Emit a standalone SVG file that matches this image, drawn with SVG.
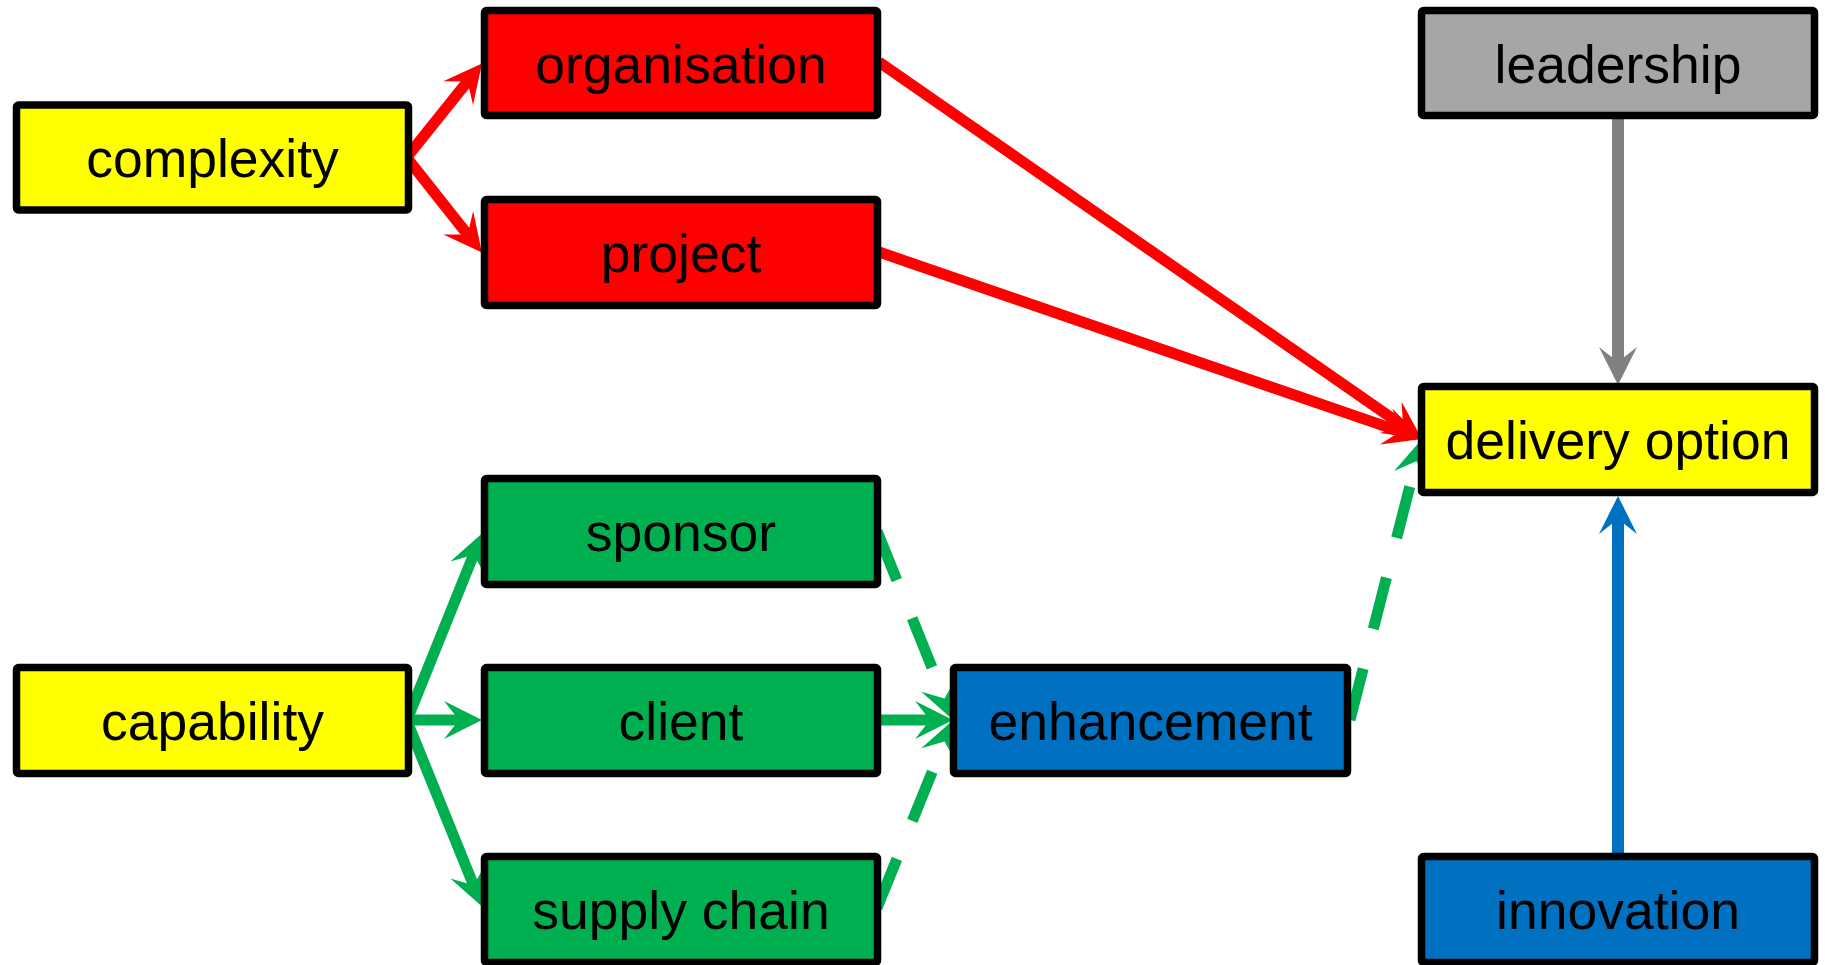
<svg xmlns="http://www.w3.org/2000/svg" width="1825" height="965" viewBox="0 0 1825 965">
<style>
.box{stroke:#000;stroke-width:7.5;stroke-linejoin:round}
.lbl{font-family:"Liberation Sans",Arial,sans-serif;font-size:53.5px;fill:#000;text-anchor:middle}
.c{fill:none;stroke-width:11;stroke-linecap:butt}
.red{stroke:#FF0000}
.grn{stroke:#00B050}
.gry{stroke:#808080;stroke-width:12}
.blu{stroke:#0070C0;stroke-width:12}
.dash{stroke-dasharray:53 41}
</style>
<defs>
<marker id="ar" markerUnits="userSpaceOnUse" orient="auto" overflow="visible" markerWidth="1" markerHeight="1" refX="0" refY="0"><path d="M18,0 L-20,-19 L-5,0 L-20,19 Z" fill="#FF0000"/></marker>
<marker id="ag" markerUnits="userSpaceOnUse" orient="auto" overflow="visible" markerWidth="1" markerHeight="1" refX="0" refY="0"><path d="M18,0 L-20,-19 L-5,0 L-20,19 Z" fill="#00B050"/></marker>
<marker id="ay" markerUnits="userSpaceOnUse" orient="auto" overflow="visible" markerWidth="1" markerHeight="1" refX="0" refY="0"><path d="M18,0 L-20,-19 L-5,0 L-20,19 Z" fill="#808080"/></marker>
<marker id="ab" markerUnits="userSpaceOnUse" orient="auto" overflow="visible" markerWidth="1" markerHeight="1" refX="0" refY="0"><path d="M18,0 L-20,-19 L-5,0 L-20,19 Z" fill="#0070C0"/></marker>
</defs>
<rect width="1825" height="965" fill="#fff"/>
<g id="connectors">
<path class="c red" d="M407,157 L470.7,77.5" marker-end="url(#ar)"/>
<path class="c red" d="M407,158 L470.7,238.5" marker-end="url(#ar)"/>
<path class="c red" d="M879,62 L1407.2,428.7" marker-end="url(#ar)"/>
<path class="c red" d="M879,252 L1405,433.1" marker-end="url(#ar)"/>
<path class="c gry" d="M1618,119 L1618,367" marker-end="url(#ay)"/>
<path class="c blu" d="M1618,856 L1618,514" marker-end="url(#ab)"/>
<path class="c grn" d="M407,720 L475.5,550" marker-end="url(#ag)"/>
<path class="c grn" d="M407,720 L464,720" marker-end="url(#ag)"/>
<path class="c grn" d="M407,721 L475.5,890" marker-end="url(#ag)"/>
<path class="c grn dash" d="M877,531 L946.4,703.2" marker-end="url(#ag)"/>
<path class="c grn" d="M879,720 L935,720" marker-end="url(#ag)"/>
<path class="c grn dash" d="M877,908 L946.4,736.8" marker-end="url(#ag)"/>
<path class="c grn dash" d="M1350,720 L1417.5,456.4" marker-end="url(#ag)"/>
</g>
<g id="complexity"><rect class="box" x="16.5" y="105" width="392" height="105" rx="2" fill="#FFFF00"/><text class="lbl" x="212.5" y="177">complexity</text></g>
<g id="organisation"><rect class="box" x="484.5" y="10.5" width="393" height="105" rx="2" fill="#FF0000"/><text class="lbl" x="681" y="83">organisation</text></g>
<g id="project"><rect class="box" x="484.5" y="199.5" width="393" height="106" rx="2" fill="#FF0000"/><text class="lbl" x="681" y="272">project</text></g>
<g id="leadership"><rect class="box" x="1421.5" y="10.5" width="393" height="105" rx="2" fill="#A6A6A6"/><text class="lbl" x="1618" y="83">leadership</text></g>
<g id="delivery-option"><rect class="box" x="1421.5" y="386.5" width="393" height="106" rx="2" fill="#FFFF00"/><text class="lbl" x="1618" y="459">delivery option</text></g>
<g id="sponsor"><rect class="box" x="484.5" y="478.5" width="393" height="106" rx="2" fill="#00B050"/><text class="lbl" x="681" y="551">sponsor</text></g>
<g id="capability"><rect class="box" x="16.5" y="667.5" width="392" height="106" rx="2" fill="#FFFF00"/><text class="lbl" x="212.5" y="740">capability</text></g>
<g id="client"><rect class="box" x="484.5" y="667.5" width="393" height="106" rx="2" fill="#00B050"/><text class="lbl" x="681" y="740">client</text></g>
<g id="enhancement"><rect class="box" x="953.5" y="667.5" width="394" height="106" rx="2" fill="#0070C0"/><text class="lbl" x="1150.5" y="740">enhancement</text></g>
<g id="supply-chain"><rect class="box" x="484.5" y="856.5" width="393" height="106" rx="2" fill="#00B050"/><text class="lbl" x="681" y="929">supply chain</text></g>
<g id="innovation"><rect class="box" x="1421.5" y="856.5" width="393" height="106" rx="2" fill="#0070C0"/><text class="lbl" x="1618" y="929">innovation</text></g>
</svg>
